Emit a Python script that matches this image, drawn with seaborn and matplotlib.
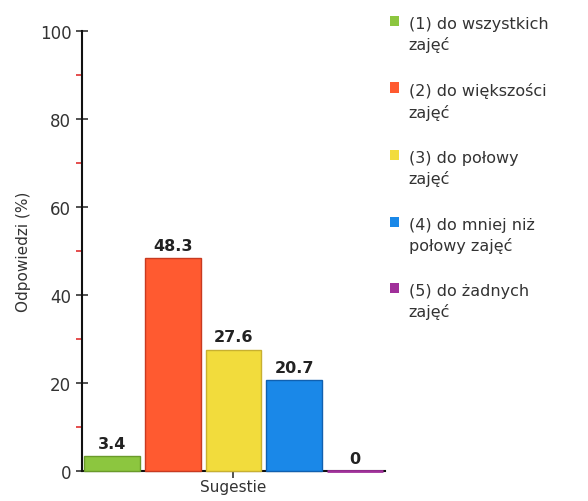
import matplotlib
matplotlib.use("Agg")
import matplotlib.pyplot as plt
import seaborn as sns
import pandas as pd
from matplotlib.patches import Patch
from matplotlib.ticker import MultipleLocator

# data
categories = ["(1) do wszystkich\nzajęć", "(2) do większości\nzajęć", "(3) do połowy\nzajęć",
              "(4) do mniej niż\npołowy zajęć", "(5) do żadnych\nzajęć"]
values = [3.4, 48.3, 27.6, 20.7, 0]
colors = ["#8cc63f", "#ff5a30", "#f2dc3c", "#1a88e8", "#a0309a"]
edges = ["#6a9a2a", "#c83a20", "#c8b030", "#1060b0", "#a0309a"]

df = pd.DataFrame({"grupa": ["Sugestie"] * 5, "kat": categories, "val": values})

sns.set_style("white")
plt.rcParams['font.family'] = ['DejaVu Sans']

fig = plt.figure(figsize=(5.88, 5.02), dpi=100)
ax = fig.add_axes([0.139, 0.06, 0.516, 0.876])

sns.barplot(data=df, x="grupa", y="val", hue="kat", palette=colors, width=1.0,
            gap=0.08, legend=False, ax=ax, saturation=1)

for bar, ec, v in zip(ax.patches, edges, values):
    bar.set_edgecolor(ec)
    bar.set_linewidth(1 if v > 0 else 2.0)
    bar.set_zorder(3)
    bar.set_clip_on(False)

for bar, v in zip(ax.patches, values):
    x = bar.get_x() + bar.get_width() / 2
    label = f"{v:g}"
    ax.text(x, bar.get_height() + 1.2, label, ha="center", va="bottom",
            fontsize=11.5, fontweight="bold", color="#222222")

ax.set_xlim(-0.5, 0.5)
ax.set_ylim(0, 100)
ax.yaxis.set_major_locator(MultipleLocator(20))
ax.yaxis.set_minor_locator(MultipleLocator(10))
ax.tick_params(axis="y", which="major", direction="inout", length=8, width=1.2,
               labelsize=12, colors="#333333")
ax.tick_params(axis="y", which="minor", direction="out", length=4, width=1.2, color="#e03030")
ax.tick_params(axis="x", which="major", direction="out", length=5, width=1.2, labelsize=11,
               colors="#333333", pad=1)
ax.tick_params(left=True, bottom=True, which="both")
for s in ["top", "right"]:
    ax.spines[s].set_visible(False)
for s in ["left", "bottom"]:
    ax.spines[s].set_color("#111111")
    ax.spines[s].set_linewidth(1.5)
    ax.spines[s].set_zorder(2)

ax.set_xlabel("")
ax.set_ylabel("Odpowiedzi (%)", fontsize=11, color="#333333", labelpad=6)

handles = [Patch(facecolor=c, edgecolor="none") for c in colors]
leg = fig.legend(handles, categories, loc="upper left", bbox_to_anchor=(0.638, 0.995),
                 frameon=False, fontsize=11.5, handlelength=0.6, handleheight=0.6,
                 handletextpad=0.6, labelspacing=1.9, labelcolor="#333333")
for t in leg.get_texts():
    t.set_linespacing(1.4)
# square next to the first line of each entry
for hp in leg._legend_handle_box.get_children()[0].get_children():
    hp.align = "top"

fig.savefig("out.png", dpi=100)
